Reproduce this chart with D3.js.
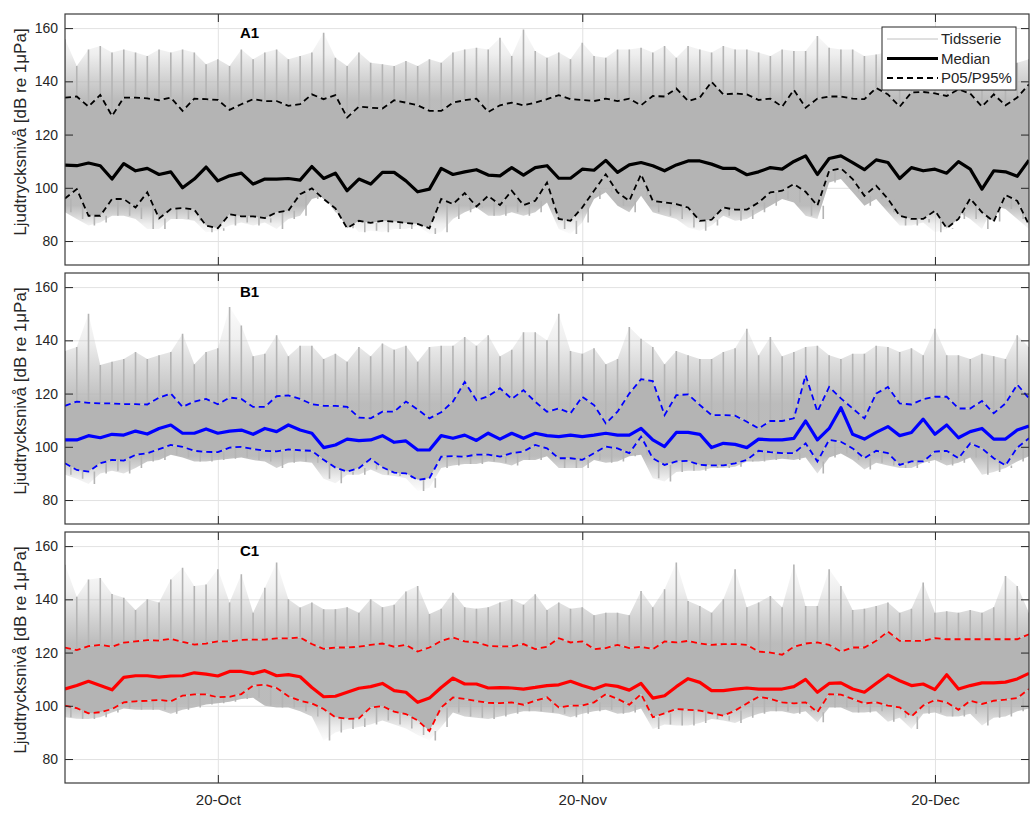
<!DOCTYPE html>
<html>
<head>
<meta charset="utf-8">
<script src="https://cdn.jsdelivr.net/npm/d3@7"></script>
<style>
  body { margin: 0; background: #fff; }
  text { font-family: "Liberation Sans", Arial, sans-serif; }
</style>
</head>
<body>
<svg id="chart" width="1034" height="823"></svg>
<script>
// daily values, 7 Oct - 28 Dec
const startDate = new Date(Date.UTC(2019, 9, 7));
const nDays = 83;

const yTicks = [80, 100, 120, 140, 160];
const xTickDates = [new Date(Date.UTC(2019, 9, 20)), new Date(Date.UTC(2019, 10, 20)), new Date(Date.UTC(2019, 11, 20))];
const legendLabels = ['Tidsserie', 'Median', 'P05/P95%'];

// ---- A1 ----
const medA = [108.5,108.3,109.3,108.3,103.3,109.1,106.4,107.3,105,106,
  100,103.3,107.8,102.6,104.5,105.5,101.4,103.3,103.3,103.5,
  102.9,108,103.5,105.5,98.9,103.3,101.4,105.8,105.8,102.6,
  98.5,99.5,107.3,105,106,106.8,104.8,104.5,107.6,
  104.75,107.6,108.3,103.6,103.6,107,106.6,110.3,105.8,108.6,
  109.5,108.3,106.4,108.6,110.1,110.1,108.9,107.3,107.3,104.9,
  106,107.6,107,109.9,112,105,111,112,109.5,106.8,
  110.5,109.5,103.5,107.6,106.4,107,105.5,109.8,107,99.5,
  106.4,106,104.3,110.4];
const p95A = [133.9,134.3,130.5,134.9,127,133.9,133.9,133.6,132.9,133.9,
  128.9,133.5,133.3,133,129.3,131.4,133.3,132.6,132.6,130.8,
  131.4,135.1,133.3,134.8,126.4,130.5,130.1,129.8,132.9,132,
  131,128.9,128.9,132,132.9,133.5,128.5,131,132,
  131,132,133.3,134.8,133.3,133,132.6,133.5,132.6,133.5,
  131,134.5,134.3,137.3,132.6,133.9,139.8,135.1,135.4,135.1,
  133,133.5,130.5,136.8,130.1,133.5,134.3,134.3,133.5,133.3,
  137.5,135.1,130.5,135.8,136,135.5,134.5,137,135.4,130.5,
  135.1,131,133.9,138.9];
const p05A = [96,99.5,89.5,89.5,95.8,95.8,92.6,98.3,88.5,92,
  92.4,91.8,85.8,84.8,90.1,89.3,89.3,88.6,90.8,91.4,
  97.6,99.8,95.8,92.3,84.8,87.6,86.8,87.6,87.3,86.8,
  86.4,84.8,95.8,93.9,98,93,97,93.5,98.9,
  93.5,95.1,102,88.3,87.6,92.6,98.9,105.1,98.3,95.1,
  105.1,95.1,94.5,93.9,92.6,87.6,88,92.6,91.8,91.8,
  94.5,98.3,98.9,101.4,98.5,93.3,106.4,107.3,103.3,97,
  100.8,95.8,89.5,88.3,88.3,91.4,84.8,88.3,96,90.8,
  87.3,97.3,95.1,86];
const hiA = [155.8,145.8,152,153.3,150.8,152,150.8,149.5,152,150.8,
  152,150.8,146.4,148.3,145.8,152,148.3,150.8,152,148.3,
  149.5,150.8,158.3,148.9,145.8,150.8,147,146.4,145.8,147.6,
  145.8,148.3,147,150.8,152,152.6,152,156.4,149.5,159.5,
  151.4,148.9,150.8,148.3,154.5,149.5,148.9,152,152,152.6,
  150.8,153.3,148.9,153.3,152,150.8,153.3,152,152,150.8,
  149.5,152,151.4,151.4,157,152.6,152,152,149.5,150.1,
  151,149,152,150,148,151,153,149,150,152,
  145.8,147,148.3];
const loA = [90.8,88.3,85.8,87,89.5,89.5,88.3,84.5,84.5,88.3,
  88.3,87.6,83.3,83.9,85.8,87,85.8,87,84.5,88.3,
  89.5,95.8,97,90.8,88.3,83.3,83.9,83.3,84.5,84.5,
  85.8,82.6,83.3,88.3,90.8,92.6,89.5,89.5,90.8,89.5,
  90.8,94.5,84.5,82.6,87,95.8,98.3,93.3,90.8,97,
  90.8,89.5,88.3,85.1,83.9,85.8,89.5,87.6,88.3,90.8,
  93.3,95.8,94.5,89.5,88.3,102,103.3,98.3,93.3,95.8,
  90.8,85.8,85.8,87,83.3,84.5,90.8,88.3,84.5,93.3,
  92,88.3,84.5];

// ---- B1 ----
const medB = [102.6,102.6,104.2,103.4,104.7,104.4,105.9,104.8,106.9,108.2,
  105.1,105.1,106.7,105.1,105.9,106.3,104.7,106.9,105.7,108.2,
  106.3,105.1,99.7,100.7,102.9,102.3,102.6,104.2,101.7,102.2,
  98.8,98.8,104.2,103.2,104.4,102.4,105.1,102.9,105.1,
  103.2,105.1,104.2,103.8,104.4,103.8,104.4,105.1,104.4,104.4,
  106.9,102.6,100.1,105.4,105.4,104.7,99.7,101.3,100.9,99.7,
  102.9,102.6,102.6,103.2,109.7,102.6,106.9,114.7,104.7,102.9,
  105.4,107.6,104.2,105.4,110.4,104.7,108.2,103.4,105.7,106.9,
  102.9,102.9,106.3,107.8];
const p95B = [115.4,117,116.5,116.3,116.3,116,116,115.9,118.5,120,
  115,117,118,116,118.5,118,115,115,119,119.3,
  118,116,115.4,115.4,115,111,110.7,113.2,113.2,117,
  114,110.7,113,117,124.4,117.5,119,122,118,
  121.3,116.9,113.2,114.4,112.6,118.8,115.7,108.8,113.2,120,
  125.4,124.7,111.9,119.4,119.7,115.7,111.9,111.9,111.7,109.4,
  106.9,109.7,109.7,110.7,126.9,113.2,122.5,118.2,114.4,110.7,
  120,122.5,116.3,115.9,117.9,118.8,118.8,114.4,114.4,117.2,
  112.6,116.3,123.4,118.2];
const p05B = [93.8,91.3,90.7,93.8,95.1,94.8,97,97.6,99.1,100.7,
  100,98.5,98.1,98,99.7,100,99.2,98.5,98.3,99,
  98.7,98.5,95.1,92.2,90.7,92,95.5,92.3,90.3,90,
  87.6,88.2,96.3,96.5,96.3,97.1,97.1,96.3,97.6,
  98.2,100.7,99.4,95.7,95.7,95.1,97.6,100.1,99.4,97.6,
  103.8,95.7,93.2,94.5,94.7,93.2,93,93,93.8,95.1,
  98.5,98,97.6,97.6,101.3,94.5,102.6,101.9,99.4,95.7,
  98.5,97.6,93.2,94.5,94.5,98.2,98.5,95.7,101.3,99.4,
  95.7,93,99.7,103.2];
const hiB = [136,137.5,150,130.7,132,133,135.6,133,134.4,135.6,
  142.5,131,135.6,137,152.5,145.6,134,135,141.9,134,
  138,138,133,135,132,137.5,134,138.8,136.5,138,
  132,137.5,138,138,141.3,138,141.9,134,136.5,143,
  143,140,150,136,135,137,131,133,145,140.6,
  137.5,131,136,134.4,133,133,135.6,137,144.4,134.4,
  141.3,134,135.6,137.5,138,134.4,133,135,135,138,
  137.5,135.6,137,134.4,144.4,134.4,134.4,133,135,134,
  133,141.9,137.5];
const loB = [89.5,88,86,90,91,90,92,94.5,95,97,
  96,94.5,94.5,95,95.5,96,95,94.5,92,94,
  94.5,94,88,86.3,89.5,89.5,91.5,89.5,89,88.2,
  83.4,84.6,92,93,93.5,93.5,94.5,94,93,95,
  95,96.5,92,92,92,95,94,94.5,96.5,97,
  88.2,87,90.5,91,91,92,92,92.5,94.5,94.5,
  95,95.5,95,96,90,96,97.5,95,91.5,94,
  93,92,92,94,95,93,94,96,89.5,90.5,
  92,94.5,96.5];

// ---- C1 ----
const medC = [106.3,107.6,109.2,107.6,106,110.7,111.3,111.3,110.8,111.2,
  111.3,112.4,111.9,111.2,112.9,112.9,112.1,113.2,111.3,111.7,
  110.9,106.9,103.4,103.6,105.1,106.6,107.2,108.4,105.7,105.1,
  101.3,102.9,106.9,110.4,108.2,108.2,106.7,106.8,106.7,
  106.3,106.9,107.6,107.9,109.2,107.6,106.3,107.9,107.3,105.9,
  108.4,102.9,103.8,107.2,110.2,108.8,105.7,105.7,106.3,106.7,
  106.3,106.3,106.3,107.2,109.9,105.1,108.4,108.6,106.3,105.1,
  108.4,111.6,109.4,107.6,108.2,106.1,111.7,106.3,107.6,108.6,
  108.6,108.9,110.1,112.2];
const p95C = [121.9,120.9,122.4,122.9,122.2,123.7,124.2,124.7,124.5,125.2,
  124,123,123.4,124.2,124.2,124.8,124.9,124.9,125.3,125.3,
  125.7,123.2,121.4,121.9,121.9,122.2,122.9,123.4,122.2,122.9,
  120.4,121.9,124.4,125.7,124.2,123.8,122.5,122.3,122.3,
  123.2,121.3,122.2,125.4,123.8,124.2,121.3,121.7,122.9,121.7,
  122.2,121.3,124.2,123.8,124.4,123.4,122.9,123.2,123.2,122.9,
  120.4,120,119.2,122.2,123.4,123.8,122.9,120.4,121.9,121.9,
  124.4,127.9,124.4,124.4,124.4,125.4,125,125,125,125,
  125,125,125,126.9];
const p05C = [100.1,99.1,97.2,97.6,98.8,101.3,101.7,101.9,102.2,101.7,
  103.8,104.3,104.3,103.2,103.4,104.4,107.6,107.9,106.7,103.6,
  101.9,100.9,98.8,95.7,95.1,95.3,99.4,99.9,97.8,96.9,
  94.5,90.5,99.4,103.1,102.6,101.8,101.1,101,101.3,
  100.4,101.9,103.2,99.4,100.1,100.1,101.3,104.4,102.6,100.4,
  104.4,95.7,97.2,98.8,98.5,98.2,97.2,96.3,98.2,100.9,
  103.4,102.6,101.3,100.9,101.3,97.6,104.4,104.2,102.6,100.9,
  101.3,100.1,99.4,96,100.1,102.2,101.3,98.5,101.9,100.7,
  101.9,102.3,102.9,106.3];
const hiC = [153,141,147.5,148,142,140.6,136,140,138.8,147.5,
  151.9,145,145.6,151.3,138.8,149.4,135,144.4,153.8,140,
  136.9,138.8,136.3,136.3,137,135,140,137,138,142.9,
  145,134.5,136.5,142.5,137,136.5,137,138.8,140,138,
  141.9,136,138.8,136.5,137,134,135,135,134,143.1,
  137,143.8,153.8,139.4,137.5,135,140,151.3,137,138.8,
  141.3,137,153.1,137.5,137.5,151.3,145,136,136.5,137.5,
  138.8,135,136.5,146.3,135,135.5,135,136,135,137,
  148.8,145,135];
const loC = [95.7,95.1,95,95.7,97.5,99,98.5,98.5,98.5,97,
  98.5,99.4,100.5,101,101.5,102.6,103,100,99.4,99.4,
  98,96,87,90,91.3,92,93,94.5,93,91.5,
  89,87,92,97.5,96,95.5,95,96,97,98,
  98,97.5,97,95.7,97,98,98.5,97,97.5,99,
  91.3,93,92.6,92.6,93.5,95,94.5,93.5,95.5,97,
  98,98,97,98,93.8,99.4,99.4,97.5,97.5,98,
  94,95.5,91.3,97,97.5,96,96,97,92.6,95.5,
  96,98,99];

const panels = [
  { name: 'A1', med: medA, p05: p05A, p95: p95A, hi: hiA, lo: loA, color: '#000000' },
  { name: 'B1', med: medB, p05: p05B, p95: p95B, hi: hiB, lo: loB, color: '#0000ff' },
  { name: 'C1', med: medC, p05: p05C, p95: p95C, hi: hiC, lo: loC, color: '#ff0000' }
];

const left = 65, right = 1029, panelH = 251;
const tops = [14, 273, 532];
const greyCol = '#b4b4b4';
const axisCol = '#262626';

const days = d3.range(nDays).map(i => d3.utcDay.offset(startDate, i));
const x = d3.scaleUtc().domain([days[0], days[nDays - 1]]).range([left, right]);

const svg = d3.select('#chart');
const defs = svg.append('defs');

function fadeGradient(id, yFrom, yTo) {
  const gr = defs.append('linearGradient').attr('id', id)
    .attr('gradientUnits', 'userSpaceOnUse')
    .attr('x1', 0).attr('x2', 0).attr('y1', yFrom).attr('y2', yTo);
  [[0, 0.9], [0.3, 0.6], [0.65, 0.22], [1, 0.04]].forEach(([o, a]) => {
    gr.append('stop').attr('offset', o).attr('stop-color', greyCol).attr('stop-opacity', a);
  });
}

panels.forEach((p, n) => {
  const top = tops[n];
  const bottom = top + panelH;
  const y = d3.scaleLinear().domain([71, 165.3]).range([bottom, top]);
  const g = svg.append('g');

  defs.append('clipPath').attr('id', `clip-${p.name}`)
    .append('rect').attr('x', left).attr('y', top)
    .attr('width', right - left).attr('height', panelH);
  fadeGradient(`up-${p.name}`, y(d3.mean(p.p95)), y(d3.max(p.hi)));
  fadeGradient(`down-${p.name}`, y(d3.mean(p.p05)), y(d3.min(p.lo)));

  // grid
  g.append('g').attr('transform', `translate(${left},0)`)
    .call(d3.axisLeft(y).tickValues(yTicks).tickSize(-(right - left)).tickFormat(''))
    .call(a => a.select('.domain').remove())
    .call(a => a.selectAll('line').attr('stroke', '#e2e2e2'));
  g.append('g').attr('transform', `translate(0,${bottom})`)
    .call(d3.axisBottom(x).tickValues(xTickDates).tickSize(-panelH).tickFormat(''))
    .call(a => a.select('.domain').remove())
    .call(a => a.selectAll('line').attr('stroke', '#e2e2e2'));

  const plot = g.append('g').attr('clip-path', `url(#clip-${p.name})`);
  const xi = (d, i) => x(days[i]);

  // time series: dense body between the percentiles, thinning out towards the daily max / min
  plot.append('path')
    .attr('d', d3.area().x(xi).y0((d, i) => y(p.p95[i])).y1(d => y(d))(p.hi))
    .attr('fill', `url(#up-${p.name})`);
  plot.append('path')
    .attr('d', d3.area().x(xi).y0((d, i) => y(p.p05[i])).y1(d => y(d))(p.lo))
    .attr('fill', `url(#down-${p.name})`);
  plot.append('path')
    .attr('d', d3.area().x(xi).y0((d, i) => y(p.p05[i])).y1(d => y(d))(p.p95))
    .attr('fill', greyCol);

  let spikes = '';
  days.forEach((d, i) => {
    spikes += `M${x(d)},${y(p.p95[i])}V${y(p.hi[i])}`;
    spikes += `M${x(d3.utcHour.offset(d, 12))},${y(p.p05[i])}V${y(p.lo[i])}`;
  });
  plot.append('path')
    .attr('d', spikes)
    .attr('fill', 'none')
    .attr('stroke', greyCol)
    .attr('stroke-width', 1.6);

  const line = d3.line().x(xi).y(d => y(d));
  [p.p05, p.p95].forEach(s => {
    plot.append('path')
      .attr('d', line(s))
      .attr('fill', 'none')
      .attr('stroke', p.color)
      .attr('stroke-width', 1.8)
      .attr('stroke-dasharray', '6,4');
  });
  plot.append('path')
    .attr('d', line(p.med))
    .attr('fill', 'none')
    .attr('stroke', p.color)
    .attr('stroke-width', 3.2)
    .attr('stroke-linejoin', 'round');

  // frame and inward ticks
  const styleAxis = a => {
    a.select('.domain').remove();
    a.selectAll('line').attr('stroke', axisCol);
    a.selectAll('text').attr('fill', axisCol).style('font-size', '14px');
  };
  g.append('g').attr('transform', `translate(${left},0)`)
    .call(d3.axisLeft(y).tickValues(yTicks).tickSizeInner(-8).tickSizeOuter(0).tickPadding(7))
    .call(styleAxis);
  g.append('g').attr('transform', `translate(${right},0)`)
    .call(d3.axisRight(y).tickValues(yTicks).tickSizeInner(-8).tickSizeOuter(0).tickFormat(''))
    .call(styleAxis);
  g.append('g').attr('transform', `translate(0,${top})`)
    .call(d3.axisTop(x).tickValues(xTickDates).tickSizeInner(-8).tickSizeOuter(0).tickFormat(''))
    .call(styleAxis);
  g.append('g').attr('transform', `translate(0,${bottom})`)
    .call(d3.axisBottom(x).tickValues(xTickDates).tickSizeInner(-8).tickSizeOuter(0).tickPadding(11)
      .tickFormat(n === panels.length - 1 ? d3.utcFormat('%d-%b') : ''))
    .call(styleAxis)
    .call(a => a.selectAll('text').style('font-size', '15px'));

  g.append('rect')
    .attr('x', left).attr('y', top)
    .attr('width', right - left).attr('height', panelH)
    .attr('fill', 'none').attr('stroke', '#3a3a3a').attr('stroke-width', 1.2);

  g.append('text')
    .attr('x', 240).attr('y', top + 24)
    .attr('font-weight', 'bold').attr('font-size', 15)
    .attr('fill', '#000')
    .text(p.name);

  g.append('text')
    .attr('transform', `translate(26,${top + 118}) rotate(-90)`)
    .attr('text-anchor', 'middle')
    .attr('font-size', 17)
    .attr('fill', axisCol)
    .text('Ljudtrycksnivå [dB re 1μPa]');
});

// legend (top panel)
const lg = svg.append('g').attr('transform', 'translate(882,27)');
lg.append('rect').attr('width', 134).attr('height', 63)
  .attr('fill', '#fff').attr('stroke', axisCol).attr('stroke-width', 1);
const legendStyles = [
  { stroke: '#c0c0c0', width: 1, dash: null },
  { stroke: '#000', width: 3.2, dash: null },
  { stroke: '#000', width: 1.8, dash: '6,4' }
];
legendLabels.forEach((lab, i) => {
  const yy = 12 + i * 19.5;
  lg.append('line').attr('x1', 5).attr('x2', 56).attr('y1', yy).attr('y2', yy)
    .attr('stroke', legendStyles[i].stroke)
    .attr('stroke-width', legendStyles[i].width)
    .attr('stroke-dasharray', legendStyles[i].dash);
  lg.append('text').attr('x', 59).attr('y', yy).attr('dy', '0.35em')
    .attr('font-size', 15).attr('fill', axisCol).text(lab);
});
</script>
</body>
</html>
